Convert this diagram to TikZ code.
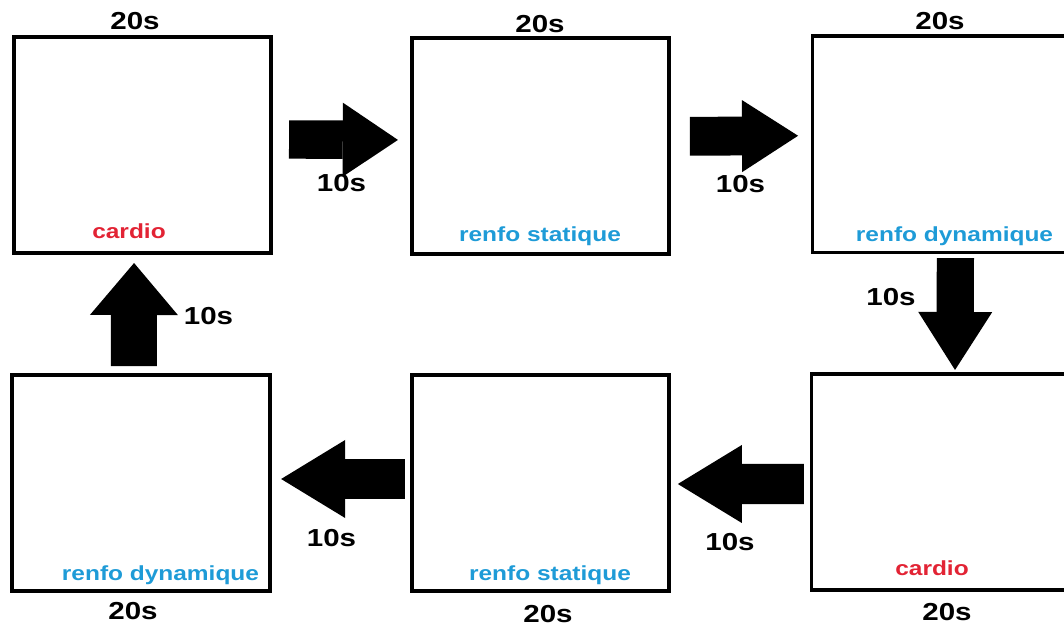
\documentclass[tikz,border=0pt]{standalone}
\usepackage{fontspec}
\usepackage{graphicx}
\usepackage{xcolor}
\usetikzlibrary{arrows.meta}
\setmainfont{Liberation Sans}

\definecolor{cardioRed}{RGB}{226,35,52}
\definecolor{renfoBlue}{RGB}{30,155,215}
\newcommand{\wide}[1]{\scalebox{1.2}[1]{#1}}

\tikzset{
    slot/.style={draw, line width=2.8pt, outer sep=0pt, minimum width=6.425cm, minimum height=5.4cm},
    dur/.style={font=\bfseries\fontsize{17.5}{20}\selectfont, inner sep=0pt, anchor=base},
    tag/.style={font=\bfseries\fontsize{14.5}{17}\selectfont, inner sep=0pt, anchor=base},
    blockarrow/.style n args={3}{line width=#1, -{Triangle[length=#2,width=#3,line width=0pt]}}
}

\begin{document}
\begin{tikzpicture}[x=0.025cm, y=0.025cm]
    \useasboundingbox (0,0) rectangle (1064,626);
    \clip (0,0) rectangle (1064,626);

    % boxes
    \node[slot] (c1) at (142.5,481) {};
    \node[slot] (c2) at (540.5,480) {};
    \node[slot] (c3) at (941,481.5) {};
    \node[slot] (c4) at (141,143) {};
    \node[slot] (c5) at (540.5,143) {};
    \node[slot] (c6) at (940,144) {};

    % exercises
    \node[tag, cardioRed] (t1) at (129,387) {\wide{cardio}};
    \node[tag, renfoBlue] (t2) at (540,384) {\wide{renfo statique}};
    \node[tag, renfoBlue] (t3) at (954.5,384) {\wide{renfo dynamique}};
    \node[tag, renfoBlue] (t4) at (160.5,46) {\wide{renfo dynamique}};
    \node[tag, renfoBlue] (t5) at (550,46) {\wide{renfo statique}};
    \node[tag, cardioRed] (t6) at (932,51) {\wide{cardio}};

    % work time
    \node[dur] (w1) at (135,596) {\wide{20s}};
    \node[dur] (w2) at (540,593) {\wide{20s}};
    \node[dur] (w3) at (940,596) {\wide{20s}};
    \node[dur] (w4) at (133,7) {\wide{20s}};
    \node[dur] (w5) at (548,4) {\wide{20s}};
    \node[dur] (w6) at (947,6) {\wide{20s}};

    % rest time
    \node[dur] (r1) at (341.5,434) {\wide{10s}};
    \node[dur] (r2) at (740.5,433) {\wide{10s}};
    \node[dur] (r3) at (891,320) {\wide{10s}};
    \node[dur] (r4) at (331.5,80) {\wide{10s}};
    \node[dur] (r5) at (730,76) {\wide{10s}};
    \node[dur] (r6) at (208.5,302) {\wide{10s}};

    % transitions
    \draw[blockarrow={0.96cm}{1.38cm}{1.85cm}, shorten <=0.45cm, shorten >=0.35cm]
        ([yshift=0.14cm]c1.east) -- ([yshift=0.15cm]c2.west);
    \draw[blockarrow={0.97cm}{1.4cm}{1.8cm}, shorten <=0.52cm, shorten >=0.36cm]
        ([yshift=0.24cm]c2.east) -- ([yshift=0.22cm]c3.west);
    \draw[blockarrow={0.93cm}{1.45cm}{1.85cm}, shorten <=0.14cm, shorten >=0.1cm]
        ([xshift=0.36cm]c3.south) -- ([xshift=0.375cm]c6.north);
    \draw[blockarrow={1cm}{1.6cm}{1.95cm}, shorten <=0.19cm, shorten >=0.22cm]
        ([yshift=-0.05cm]c6.west) -- ([yshift=-0.025cm]c5.east);
    \draw[blockarrow={1cm}{1.6cm}{1.95cm}, shorten <=0.18cm, shorten >=0.29cm]
        ([yshift=0.1cm]c5.west) -- ([yshift=0.1cm]c4.east);
    \draw[blockarrow={1.15cm}{1.3cm}{2.2cm}, shorten <=0.22cm, shorten >=0.25cm]
        ([xshift=-0.18cm]c4.north) -- ([xshift=-0.21cm]c1.south);
\end{tikzpicture}
\end{document}
